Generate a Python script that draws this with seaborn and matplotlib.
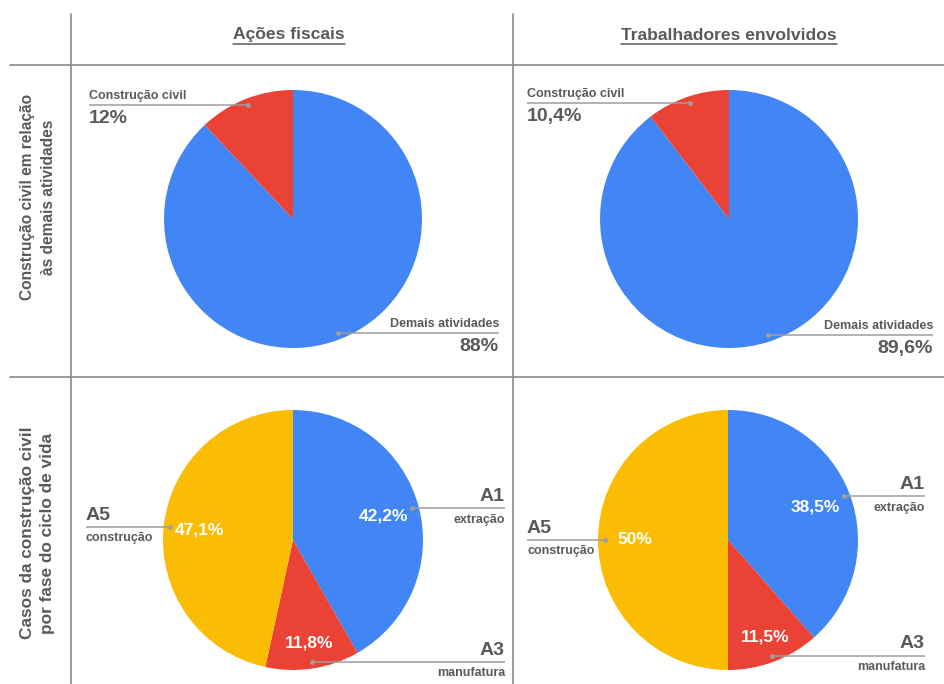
import numpy as np
import matplotlib
matplotlib.use('Agg')
import matplotlib.pyplot as plt
from matplotlib.lines import Line2D
import seaborn as sns

# Data
col_titles = ['Ações fiscais', 'Trabalhadores envolvidos']
row_titles = ['Construção civil em relação\nàs demais atividades',
              'Casos da construção civil\npor fase do ciclo de vida']

share_labels = ['Demais atividades', 'Construção civil']
share_acoes = [88, 12]
share_trab = [89.6, 10.4]

phase_labels = ['A1', 'A3', 'A5']
phase_desc = ['extração', 'manufatura', 'construção']
phase_acoes = [42.2, 11.8, 47.1]
phase_trab = [38.5, 11.5, 50]

BLUE, RED, YELLOW = '#4285F4', '#EA4335', '#FBBC04'
GREY = '#5a5a5a'
GRID = '#8a8a8a'
LEADER = '#9e9e9e'

sns.set_theme(style='white')
plt.rcParams['font.family'] = ['Liberation Sans', 'DejaVu Sans']

W, H = 944, 684
fig = plt.figure(figsize=(W / 100, H / 100), dpi=100)
fig.patch.set_facecolor('white')


def fx(px):
    return px / W


def fy(py):
    return 1 - py / H


def fmt(v):
    return f'{v:g}'.replace('.', ',') + '%'


def pie_axes(x0, y0, x1, y1, cx, cy, r):
    ax = fig.add_axes([fx(x0), fy(y1), (x1 - x0) / W, (y1 - y0) / H])
    return ax, (x0 - cx) / r, (x1 - cx) / r, (cy - y1) / r, (cy - y0) / r


def draw_pie(cell, center, values, colors, names, subs, left_px, right_px,
             name_kw, sub_kw, inner=None):
    x0, y0, x1, y1 = cell
    cx, cy, r = center
    ax, xa, xb, ya, yb = pie_axes(x0, y0, x1, y1, cx, cy, r)
    wedges, *_ = ax.pie(values, colors=colors, startangle=90, counterclock=False,
                        wedgeprops=dict(linewidth=0))
    ax.set_xlim(xa, xb)
    ax.set_ylim(ya, yb)
    ax.set_aspect('auto')
    ax.axis('off')
    xl = (left_px - cx) / r
    xr = (right_px - cx) / r
    total = sum(values)
    for i, w in enumerate(wedges):
        mid = np.deg2rad((w.theta1 + w.theta2) / 2)
        dx, dy = 0.95 * np.cos(mid), 0.95 * np.sin(mid)
        if np.cos(mid) >= 0:
            xe, ha = xr, 'right'
        else:
            xe, ha = xl, 'left'
        ax.plot([dx, xe], [dy, dy], color=LEADER, lw=1.1, solid_capstyle='butt')
        ax.plot(dx, dy, 'o', color=LEADER, ms=3.5, mec='none')
        ax.text(xe, dy + 0.025, names[i], ha=ha, va='bottom', color=GREY, **name_kw)
        ax.text(xe, dy - 0.04, subs[i], ha=ha, va='top', color=GREY, **sub_kw)
        if inner is not None:
            d = 0.8 if values[i] / total < 0.2 else 0.72
            tx, ty = d * np.cos(mid), d * np.sin(mid)
            ax.text(tx, ty, inner[i], ha='center', va='center', color='white',
                    fontsize=12.5, fontweight='bold')
    return ax


small = dict(fontsize=9, fontweight='bold')
big = dict(fontsize=14, fontweight='bold')

# top row: construção civil vs demais
draw_pie((71, 65, 513, 377), (293, 219, 129), share_acoes, [BLUE, RED],
         share_labels, [fmt(v) for v in share_acoes], 89, 499, small, big)
draw_pie((513, 65, 944, 377), (729, 219, 129), share_trab, [BLUE, RED],
         share_labels, [fmt(v) for v in share_trab], 527, 933, small, big)

# bottom row: phases
draw_pie((71, 377, 513, 684), (293, 540, 130), phase_acoes, [BLUE, RED, YELLOW],
         phase_labels, phase_desc, 86, 505, big, small,
         inner=[fmt(v) for v in phase_acoes])
draw_pie((513, 377, 944, 684), (728, 540, 130), phase_trab, [BLUE, RED, YELLOW],
         phase_labels, phase_desc, 527, 925, big, small,
         inner=[fmt(v) for v in phase_trab])

# table grid
for x in (71, 513):
    fig.add_artist(Line2D([fx(x), fx(x)], [fy(14), fy(684)], color=GRID, lw=1.2))
for y in (65, 377):
    fig.add_artist(Line2D([fx(10), fx(944)], [fy(y), fy(y)], color=GRID, lw=1.2))

# column titles (underlined)
titles = []
for t, xc in zip(col_titles, (289, 729)):
    titles.append(fig.text(fx(xc), fy(35), t, ha='center', va='center',
                           color=GREY, fontsize=12.6, fontweight='bold'))

# row titles
for t, yc, xc, fs, ls in zip(row_titles, (197, 533), (38.5, 37.5),
                             (11.2, 12.4), (1.5, 1.45)):
    fig.text(fx(xc), fy(yc), t, ha='center', va='center', rotation=90,
             color=GREY, fontsize=fs, fontweight='bold', linespacing=ls,
             multialignment='center')

fig.canvas.draw()
renderer = fig.canvas.get_renderer()
for t in titles:
    bb = t.get_window_extent(renderer)
    yline = bb.y0 - 1
    fig.add_artist(Line2D([bb.x0 / W, bb.x1 / W], [yline / H, yline / H],
                          color=GREY, lw=1.1))

fig.savefig('out.png', dpi=100, facecolor='white')
